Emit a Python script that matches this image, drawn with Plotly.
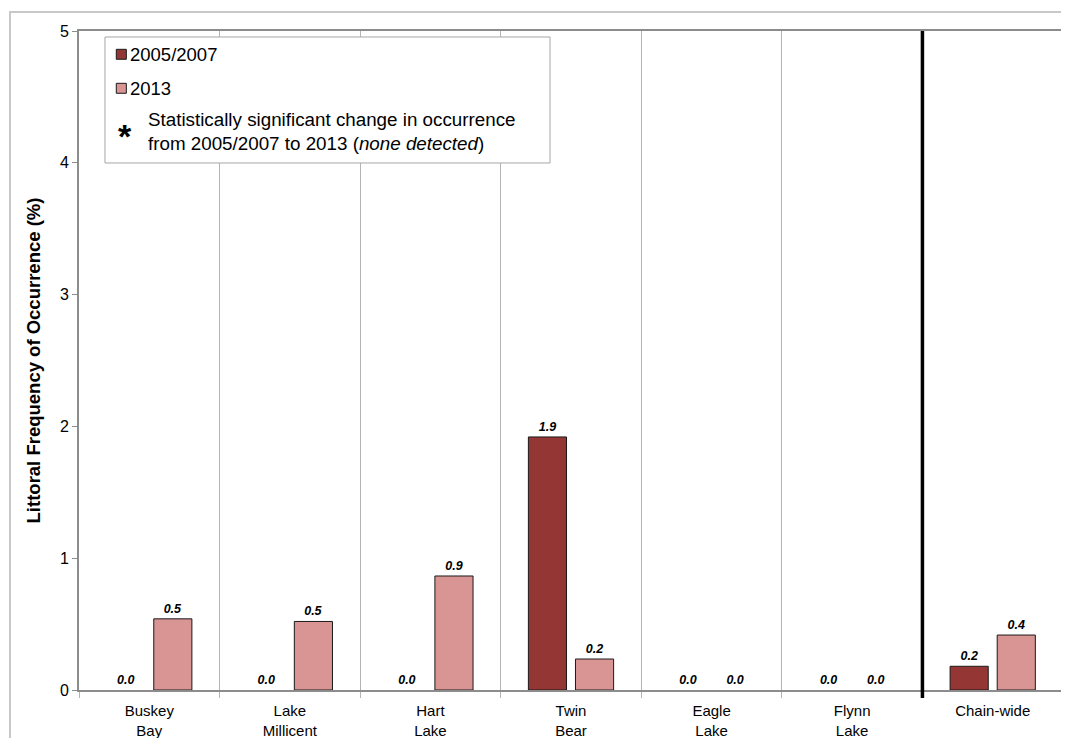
import plotly.graph_objects as go

categories = ["Buskey<br>Bay", "Lake<br>Millicent", "Hart<br>Lake", "Twin<br>Bear",
              "Eagle<br>Lake", "Flynn<br>Lake", "Chain-wide"]
vals_2005_2007 = [0.0, 0.0, 0.0, 1.92, 0.0, 0.0, 0.18]
vals_2013 = [0.54, 0.52, 0.865, 0.235, 0.0, 0.0, 0.417]
y_ticks = [0, 1, 2, 3, 4, 5]
legend_labels = ["2005/2007", "2013",
                 "Statistically significant change in occurrence<br>from 2005/2007 to 2013 (<i>none detected</i>)"]

FONT = "Liberation Sans, Arial, sans-serif"
RED = "#943634"
PINK = "#D99594"


def outline_widths(vals):
    return [1 if v > 0 else 0 for v in vals]


fig = go.Figure()
fig.add_trace(go.Bar(
    x=categories, y=vals_2005_2007, name=legend_labels[0],
    marker=dict(color=RED, line=dict(color="#1a1a1a", width=outline_widths(vals_2005_2007))),
    texttemplate="<b><i>%{y:.1f}</i></b>", textposition="outside",
    textfont=dict(size=12.5, color="black", family=FONT), cliponaxis=False,
    showlegend=False,
))
fig.add_trace(go.Bar(
    x=categories, y=vals_2013, name=legend_labels[1],
    marker=dict(color=PINK, line=dict(color="#1a1a1a", width=outline_widths(vals_2013))),
    texttemplate="<b><i>%{y:.1f}</i></b>", textposition="outside",
    textfont=dict(size=12.5, color="black", family=FONT), cliponaxis=False,
    showlegend=False,
))

# thick divider before chain-wide
fig.add_shape(type="line", xref="x", yref="paper", x0=5.5, x1=5.5, y0=-0.012, y1=1,
              line=dict(color="black", width=3.5))
# outer chart border
fig.add_shape(type="rect", xref="paper", yref="paper", x0=-0.0701, x1=1.03, y0=-0.2, y1=1.0288,
              line=dict(color="#c8c8c8", width=2), layer="below")

# legend box (manual, to match the reference layout)
fig.add_shape(type="rect", xref="paper", yref="paper", x0=0.0264, x1=0.4787, y0=0.7997, y1=0.9909,
              line=dict(color="#a6a6a6", width=1), fillcolor="white")
fig.add_shape(type="rect", xref="paper", yref="paper", x0=0.0379, x1=0.0481, y0=0.9571, y1=0.9722,
              line=dict(color="#1a1a1a", width=1), fillcolor=RED)
fig.add_shape(type="rect", xref="paper", yref="paper", x0=0.0379, x1=0.0481, y0=0.9055, y1=0.9206,
              line=dict(color="#1a1a1a", width=1), fillcolor=PINK)
fig.add_annotation(xref="paper", yref="paper", x=0.0500, y=0.9636, xanchor="left", yanchor="middle",
                   text=legend_labels[0], showarrow=False, font=dict(size=18.5))
fig.add_annotation(xref="paper", yref="paper", x=0.0500, y=0.9120, xanchor="left", yanchor="middle",
                   text=legend_labels[1], showarrow=False, font=dict(size=18.5))
fig.add_annotation(xref="paper", yref="paper", x=0.0467, y=0.8400, xanchor="center", yanchor="middle",
                   text="<b>*</b>", showarrow=False, font=dict(size=34))
fig.add_annotation(xref="paper", yref="paper", x=0.0681, y=0.8475, xanchor="left", yanchor="middle",
                   align="left", text=legend_labels[2], showarrow=False, font=dict(size=18.8))

fig.update_layout(
    width=1069, height=738,
    margin=dict(l=71, r=14, t=23, b=56),
    paper_bgcolor="white", plot_bgcolor="white",
    font=dict(family=FONT, size=15, color="black"),
    barmode="group", bargap=0.33, bargroupgap=0.19,
    showlegend=False,
    xaxis=dict(
        type="category", tickson="boundaries", showgrid=True, gridcolor="#b4b4b4", gridwidth=1,
        showline=True, linecolor="#8c8c8c", linewidth=2, mirror=True,
        ticks="outside", ticklen=6, tickcolor="#b4b4b4", ticklabelstandoff=6,
        tickfont=dict(size=15), automargin=False,
    ),
    yaxis=dict(
        range=[0, 5], tickvals=y_ticks, showgrid=False, zeroline=False,
        showline=True, linecolor="#8c8c8c", linewidth=2, mirror=True,
        ticks="outside", ticklen=5, tickcolor="#8c8c8c",
        tickfont=dict(size=16), automargin=False,
        title=dict(text="<b>Littoral Frequency of Occurrence (%)</b>", font=dict(size=18.5), standoff=14),
    ),
)

fig.write_html("out.html")
